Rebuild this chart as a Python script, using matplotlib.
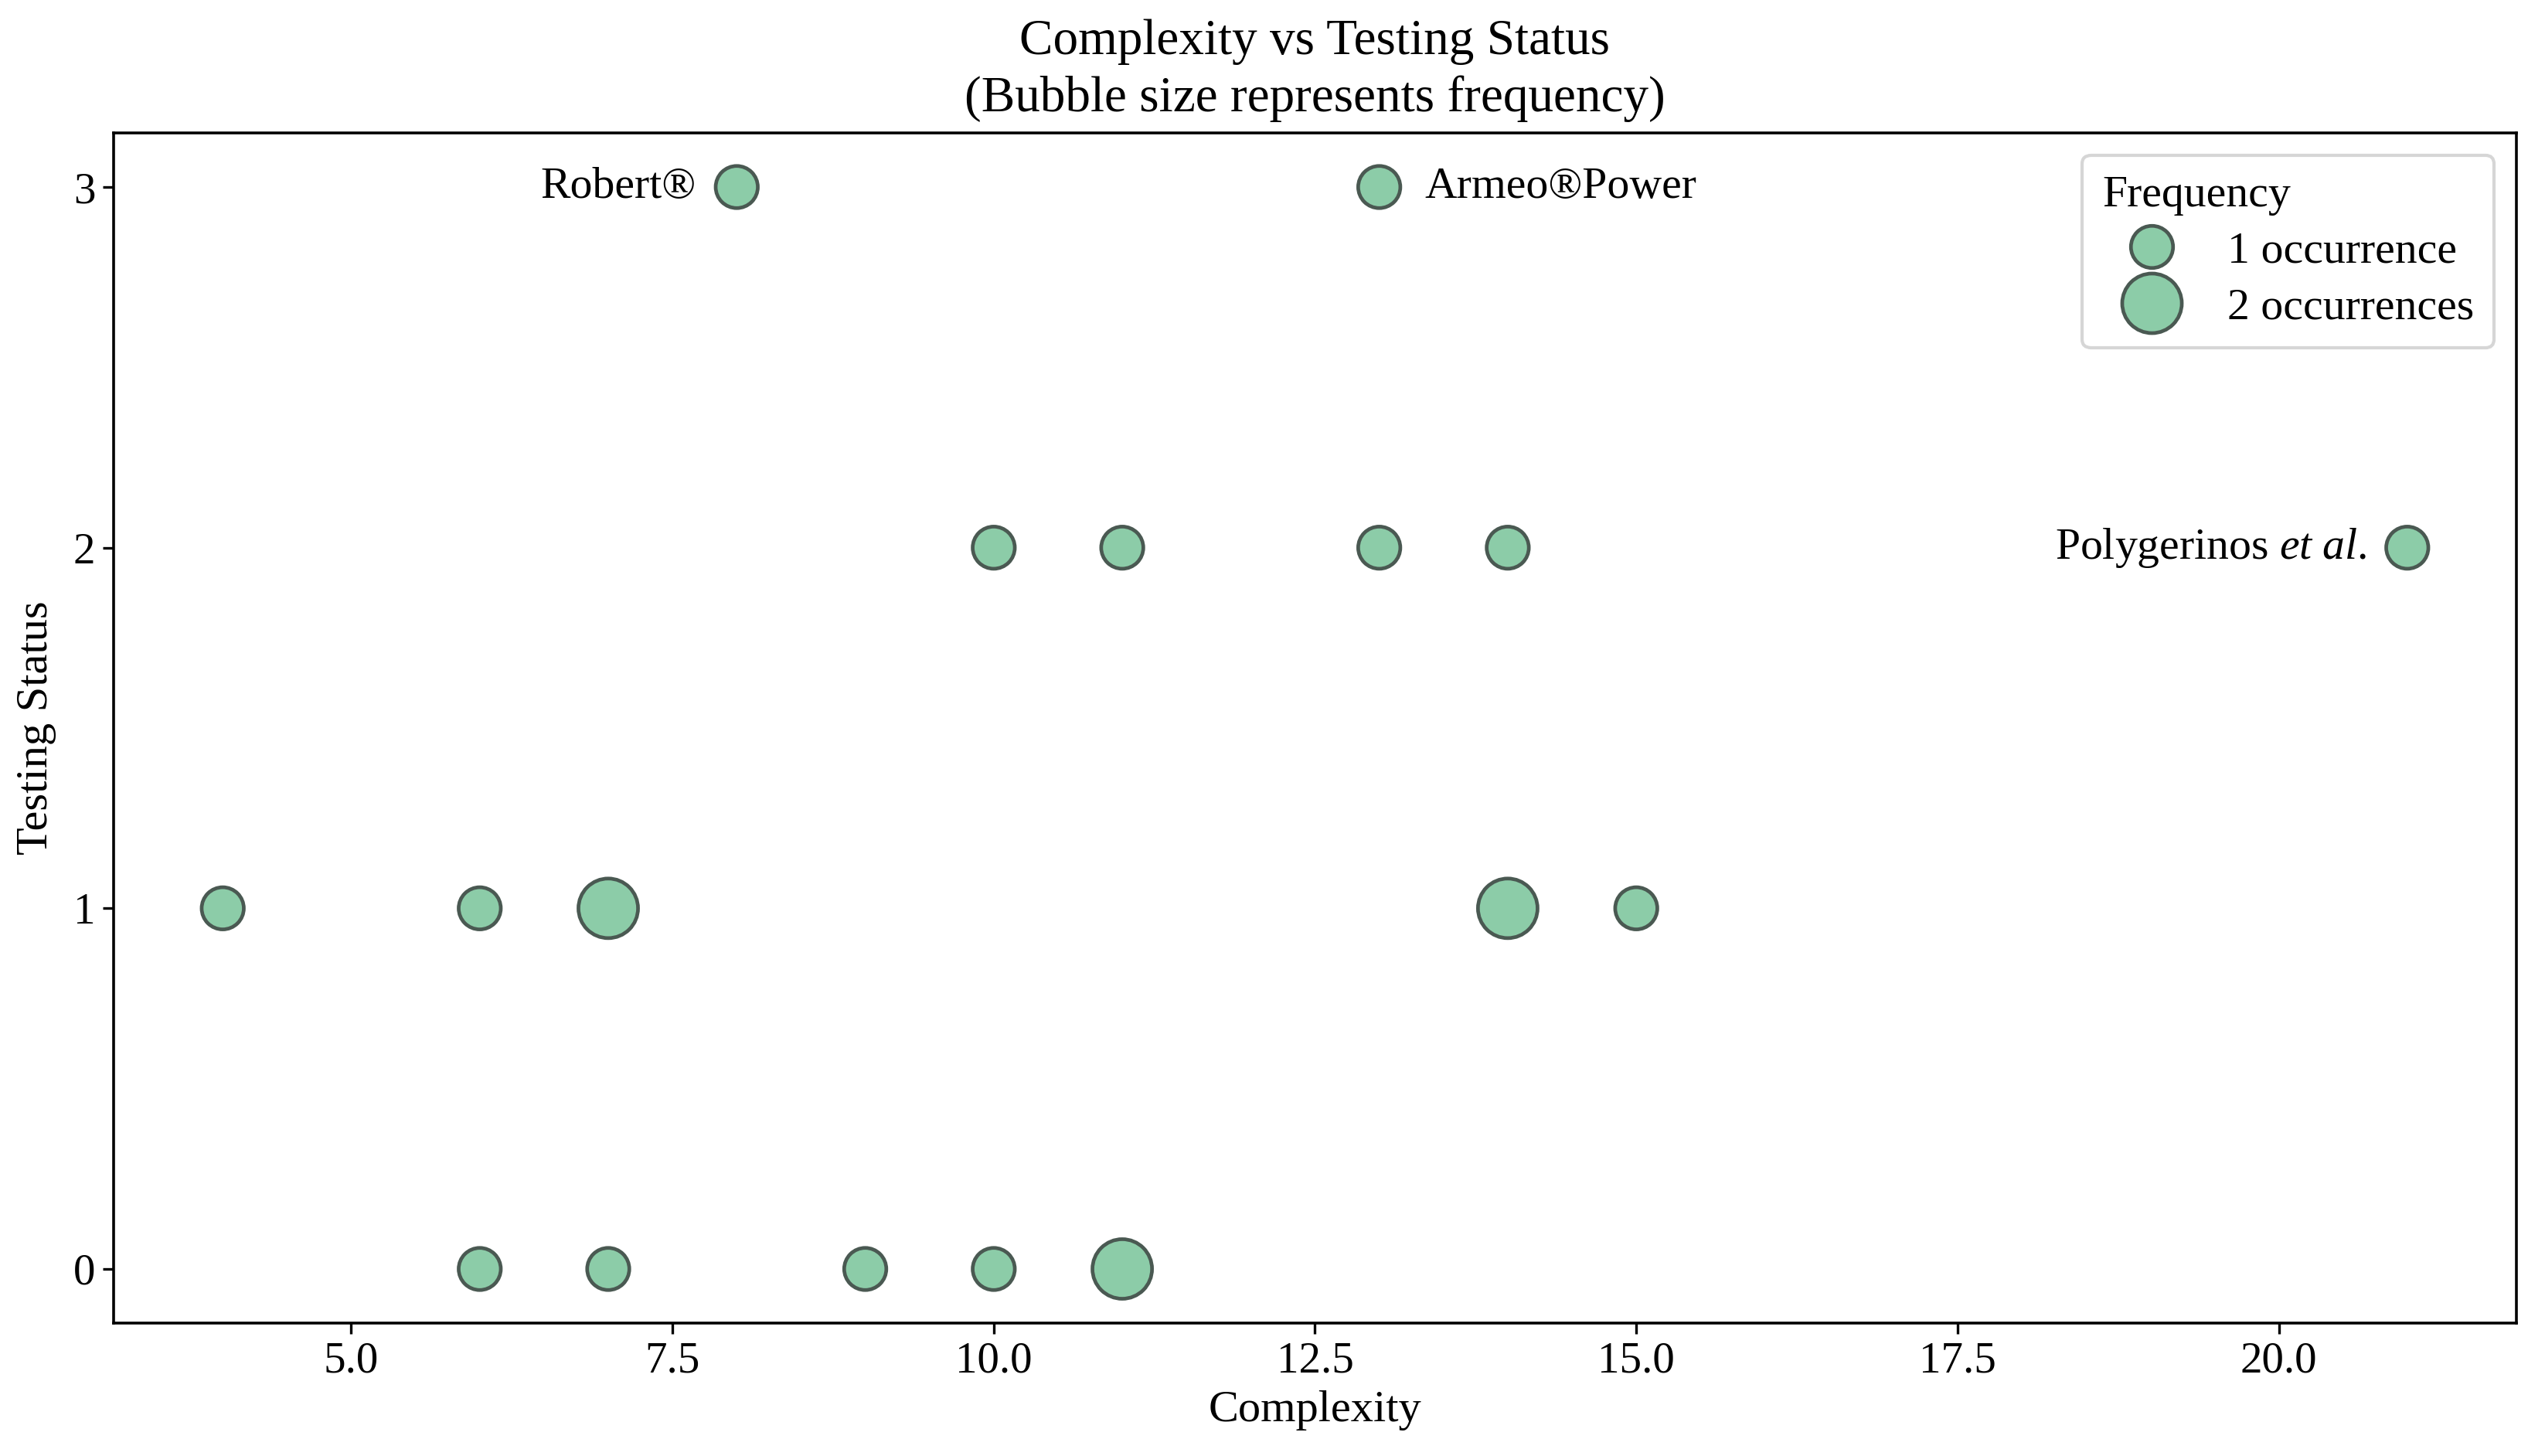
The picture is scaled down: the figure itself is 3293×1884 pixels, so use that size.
import matplotlib
matplotlib.use("Agg")
import matplotlib.pyplot as plt
from matplotlib.lines import Line2D

plt.rcParams['font.family'] = ['Liberation Serif', 'DejaVu Serif']
plt.rcParams['mathtext.fontset'] = 'custom'
plt.rcParams['mathtext.rm'] = 'Liberation Serif'
plt.rcParams['mathtext.it'] = 'Liberation Serif:italic'

# Data
complexity = [8, 13, 10, 11, 13, 14, 21, 4, 6, 7, 14, 15, 6, 7, 9, 10, 11]
testing_status = [3, 3, 2, 2, 2, 2, 2, 1, 1, 1, 1, 1, 0, 0, 0, 0, 0]
frequency = [1, 1, 1, 1, 1, 1, 1, 1, 1, 2, 2, 1, 1, 1, 1, 1, 2]

labels_text = ["Robert®", "Armeo®Power", r"Polygerinos $\mathit{et\ al.}$"]
labels_x = [8, 13, 21]
labels_y = [3, 3, 2]
labels_side = ["left", "right", "left"]

legend_labels = ["1 occurrence", "2 occurrences"]
yticks = [0, 1, 2, 3]

face = '#8ccca8'
edge = '#4a5952'
size_unit = 385

fig = plt.figure(figsize=(3293/200, 1884/200), dpi=200)
ax = fig.add_axes([0.0446, 0.0913, 0.9442, 0.8174])

ax.scatter(complexity, testing_status, s=[f * size_unit for f in frequency],
           facecolor=face, edgecolor=edge, linewidth=1.7, zorder=3)

for t, x, y, side in zip(labels_text, labels_x, labels_y, labels_side):
    if side == "left":
        ax.annotate(t, (x, y), xytext=(-19, 0), textcoords='offset points',
                    ha='right', va='center', fontsize=20.8)
    else:
        ax.annotate(t, (x, y), xytext=(21, 0), textcoords='offset points',
                    ha='left', va='center', fontsize=20.8)

ax.set_yticks(yticks)
ax.tick_params(labelsize=20.5, length=5, width=1.2)
for sp in ax.spines.values():
    sp.set_linewidth(1.3)
    sp.set_color('black')

ax.set_xlabel("Complexity", fontsize=21)
ax.set_ylabel("Testing Status", fontsize=21, labelpad=8)
ax.set_title("Complexity vs Testing Status\n(Bubble size represents frequency)",
             fontsize=23.5, linespacing=1.3, pad=10)

handles = [Line2D([], [], linestyle='none', marker='o', markersize=(f * size_unit) ** 0.5,
                  markerfacecolor=face, markeredgecolor=edge, markeredgewidth=1.7)
           for f in [1, 2]]
leg = ax.legend(handles, legend_labels, title="Frequency", loc='upper right',
                fontsize=20.8, title_fontsize=20.8, frameon=True, borderpad=0.45,
                labelspacing=0.35, handletextpad=0.6, handlelength=2.2)
leg._legend_box.align = "left"
leg.get_frame().set_edgecolor('#cccccc')
leg.get_frame().set_linewidth(1.5)

fig.savefig("out.png", dpi=200)
